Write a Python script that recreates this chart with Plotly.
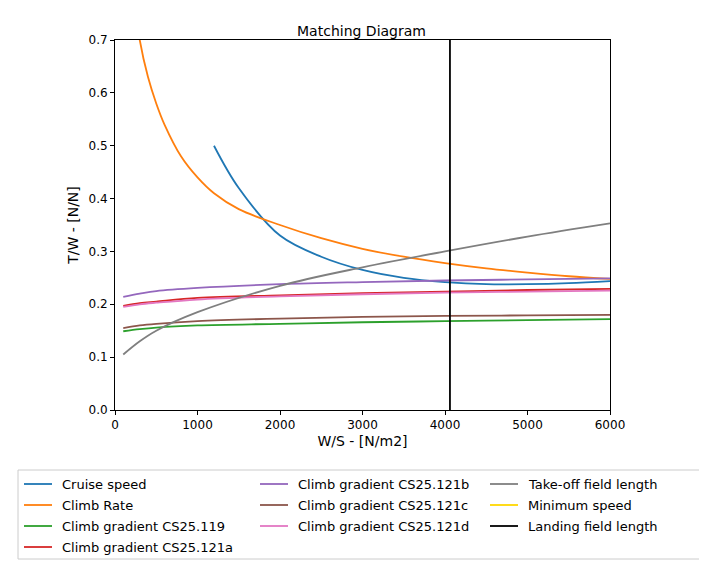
import plotly.graph_objects as go

# W/S sample points [N/m2] and T/W values
cruise_x = [1200, 1500, 2000, 2500, 3000, 3500, 4000, 4500, 5000, 5500, 6000]
cruise_y = [0.50, 0.42, 0.33, 0.29, 0.265, 0.25, 0.242, 0.238, 0.238, 0.240, 0.244]

climb_x = [250, 300, 400, 500, 600, 800, 1000, 1200, 1500, 2000, 2500, 3000, 3500,
           4000, 4500, 5000, 5500, 6000]
climb_y = [0.76, 0.70, 0.63, 0.58, 0.54, 0.48, 0.44, 0.41, 0.38, 0.35, 0.325, 0.305,
           0.29, 0.278, 0.268, 0.26, 0.253, 0.248]

ws = [100, 300, 500, 1000, 2000, 3000, 4000, 5000, 6000]
cs119 = [0.149, 0.153, 0.156, 0.160, 0.163, 0.166, 0.168, 0.170, 0.172]
cs121a = [0.197, 0.202, 0.205, 0.212, 0.217, 0.221, 0.224, 0.227, 0.229]
cs121b = [0.214, 0.220, 0.225, 0.231, 0.238, 0.242, 0.245, 0.247, 0.249]
cs121c = [0.155, 0.160, 0.163, 0.168, 0.173, 0.176, 0.178, 0.179, 0.180]
cs121d = [0.195, 0.200, 0.203, 0.209, 0.215, 0.219, 0.222, 0.224, 0.226]
takeoff = [0.105, 0.130, 0.150, 0.185, 0.235, 0.270, 0.300, 0.328, 0.353]

min_speed_ws = 6500
landing_ws = 4060

series = [
    ("Cruise speed", cruise_x, cruise_y, "#1f77b4"),
    ("Climb Rate", climb_x, climb_y, "#ff7f0e"),
    ("Climb gradient CS25.119", ws, cs119, "#2ca02c"),
    ("Climb gradient CS25.121a", ws, cs121a, "#d62728"),
    ("Climb gradient CS25.121b", ws, cs121b, "#9467bd"),
    ("Climb gradient CS25.121c", ws, cs121c, "#8c564b"),
    ("Climb gradient CS25.121d", ws, cs121d, "#e377c2"),
    ("Take-off field length", ws, takeoff, "#7f7f7f"),
    ("Minimum speed", [min_speed_ws, min_speed_ws], [0, 0.7], "gold"),
    ("Landing field length", [landing_ws, landing_ws], [0, 0.7], "black"),
]

# plot area in pixels, used to place the hand-drawn legend below it
L, R, T, B = 107, 602, 32, 402


def px(x):
    return (x - L) / (R - L)


def py(y):
    return (B - y) / (B - T)


fig = go.Figure()
for name, x, y, color in series:
    fig.add_trace(go.Scatter(x=x, y=y, mode="lines", name=name, showlegend=False,
                             line=dict(color=color, width=1.8, shape="spline")))

# legend: 3 columns, column-major like matplotlib ncol=3
col_x = [16, 252, 482]
row_y = [476, 497, 518, 539]
columns = [series[0:4], series[4:7], series[7:10]]
shapes = [dict(type="rect", xref="paper", yref="paper", x0=px(10), x1=px(698),
               y0=py(462), y1=py(551), line=dict(color="#cccccc", width=1),
               fillcolor="white", layer="below")]
annotations = []
for cx, col in zip(col_x, columns):
    for ry, (name, _, _, color) in zip(row_y, col):
        shapes.append(dict(type="line", xref="paper", yref="paper", x0=px(cx), x1=px(cx + 28),
                           y0=py(ry), y1=py(ry), line=dict(color=color, width=1.8)))
        annotations.append(dict(text=name, xref="paper", yref="paper", x=px(cx + 36), y=py(ry),
                                xanchor="left", yanchor="middle", showarrow=False,
                                font=dict(size=13)))

axis = dict(showgrid=False, zeroline=False, showline=True, linecolor="black",
            mirror=True, ticks="outside", ticklen=4, tickcolor="black")
fig.update_layout(
    width=707, height=562,
    font=dict(family="DejaVu Sans", size=12, color="black"),
    title=dict(text="Matching Diagram", x=0.5, xanchor="center", y=0.968, font=dict(size=14)),
    plot_bgcolor="white", paper_bgcolor="white",
    margin=dict(l=L, r=707 - R, t=T, b=562 - B, autoexpand=False),
    xaxis=dict(range=[0, 6000], dtick=1000, title=dict(text="W/S - [N/m2]", standoff=4), **axis),
    yaxis=dict(range=[0, 0.7], dtick=0.1, tickformat=".1f",
               title=dict(text="T/W - [N/N]", standoff=6), **axis),
    shapes=shapes, annotations=annotations, showlegend=False,
)
fig.write_html("out.html")
